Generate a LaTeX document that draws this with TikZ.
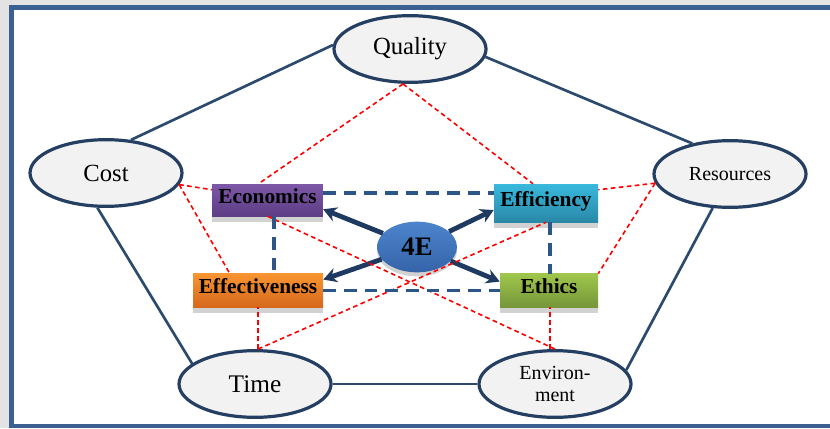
\documentclass[tikz,border=0pt]{standalone}
\usepackage{fontspec}
\setmainfont{Liberation Serif}
\usetikzlibrary{shapes.geometric, arrows.meta, calc, shadows}

\definecolor{framebl}{HTML}{3B6190}
\definecolor{edgebl}{HTML}{253F62}
\definecolor{linebl}{HTML}{2B4A6E}
\definecolor{dashbl}{HTML}{2C5688}
\definecolor{arrbl}{HTML}{1F3A60}
\definecolor{ovalgray}{HTML}{F2F2F2}
\definecolor{boxshadow}{HTML}{D2D2D2}
\definecolor{ecotop}{HTML}{7D57A8}
\definecolor{ecobot}{HTML}{5E3E84}
\definecolor{efftop}{HTML}{38B9DC}
\definecolor{effbot}{HTML}{2A88A8}
\definecolor{fvetop}{HTML}{F89431}
\definecolor{fvebot}{HTML}{D6681C}
\definecolor{ethtop}{HTML}{9FC64C}
\definecolor{ethbot}{HTML}{76963A}
\definecolor{coretop}{HTML}{4C85CC}
\definecolor{corebot}{HTML}{3563A8}

\begin{document}
\begin{tikzpicture}[x=0.75pt, y=-0.75pt,
  outer/.style={ellipse, draw=edgebl, line width=2.4pt, fill=ovalgray,
    minimum width=114pt, minimum height=50pt, inner sep=0pt, align=center},
  ebox/.style={rectangle, inner sep=0pt, text height=11pt, text depth=6pt,
    font=\fontsize{16}{18}\selectfont\bfseries,
    drop shadow={shadow xshift=0pt, shadow yshift=-4.5pt, fill=boxshadow, opacity=1}},
  pent/.style={draw=linebl, line width=2pt},
  reddash/.style={draw=red, line width=1.2pt, dash pattern=on 3.5pt off 2.5pt},
  bluedash/.style={draw=dashbl, line width=2.6pt, dash pattern=on 9.5pt off 6pt},
  push/.style={draw=arrbl, line width=3.6pt, -{Stealth[length=10pt, width=11pt]}}]
  \useasboundingbox (0,0) rectangle (830,428);
  \clip (0,0) rectangle (830,428);

  % Frame
  \fill[gray!22] (0,0) rectangle (830,428);
  \fill[white] (12,8) rectangle (840,426);
  \draw[framebl, line width=3.6pt] (840,7.5) -- (11.5,7.5) -- (11.5,426) -- (840,426);

  % Outer ellipses
  \node[outer, font=\fontsize{18.5}{20}\selectfont] (Quality) at (410,49) {Quality};
  \node[outer, font=\fontsize{18.5}{20}\selectfont] (Cost) at (106,173) {Cost};
  \node[outer, font=\fontsize{15}{17}\selectfont] (Resources) at (730,174) {Resources};
  \node[outer, font=\fontsize{19}{20}\selectfont] (Time) at (255,384) {Time};
  \node[outer, font=\fontsize{15}{17}\selectfont] (Environment) at (555,384) {Environ-\\ment};

  % The four E boxes
  \node[ebox, top color=ecotop, bottom color=ecobot,
    minimum width=83pt, minimum height=24pt] (Economics) at (267.5,200) {Economics};
  \node[ebox, top color=efftop, bottom color=effbot,
    minimum width=78pt, minimum height=28.5pt] (Efficiency) at (546,203) {Efficiency};
  \node[ebox, top color=fvetop, bottom color=fvebot,
    minimum width=97.5pt, minimum height=25pt] (Effectiveness) at (258,290.5) {Effectiveness};
  \node[ebox, top color=ethtop, bottom color=ethbot,
    minimum width=73.5pt, minimum height=25pt] (Ethics) at (549,290.5) {Ethics};

  % Centre
  \node[ellipse, top color=coretop, bottom color=corebot,
    minimum width=60pt, minimum height=38pt, inner sep=0pt,
    font=\fontsize{20}{22}\selectfont\bfseries,
    drop shadow={shadow xshift=0pt, shadow yshift=-3pt, fill=boxshadow, opacity=1}]
    (core) at (417,247) {4E};

  % Pentagon
  \draw[pent] (Quality.177) -- (Cost.53);
  \draw[pent] (Quality.-6) -- (Resources.141);
  \draw[pent] (Cost.256) -- (Time.162);
  \draw[pent] (Resources.243) -- (Environment.11);
  \draw[pent] (Time) -- (Environment);

  % Arrows out of 4E
  \foreach \anc/\dy in {Economics.south east/-7, Efficiency.west/7,
      Effectiveness.north east/6, Ethics.north west/8}
    \draw[push] (core) -- ($(\anc)+(0,\dy)$);

  % Red links
  \coordinate (qs) at ($(Quality.south)+(-7,0)$);
  \coordinate (ce) at (Cost.-9);
  \coordinate (rw) at (Resources.187);
  \coordinate (tn) at ($(Time.north)+(3,0)$);
  \coordinate (en) at ($(Environment.north)+(-5,0)$);
  \draw[reddash] (qs) -- ($(Economics.north)+(-9,0)$);
  \draw[reddash] (qs) -- ($(Efficiency.north)+(-13,0)$);
  \draw[reddash] (ce) -- ($(Economics.north west)+(0,6)$);
  \draw[reddash] (ce) -- ($(Effectiveness.north west)+(37,0)$);
  \draw[reddash] (rw) -- ($(Efficiency.north east)+(0,6)$);
  \draw[reddash] (rw) -- (Ethics.north east);
  \draw[reddash] (tn) -- (tn |- Effectiveness.south);
  \draw[reddash] (tn) -- (Efficiency.south);
  \draw[reddash] (Economics.south) -- (Environment.north);
  \draw[reddash] (en) -- (en |- Ethics.south);

  % Blue dashed square
  \coordinate (tdash) at ($(Economics.east)+(0,-7)$);
  \coordinate (ldash) at ($(Economics.south)+(6.5,0)$);
  \coordinate (rdash) at ($(Efficiency.south)+(4,0)$);
  \draw[bluedash] (tdash) -- (tdash -| Efficiency.west);
  \draw[bluedash] (Effectiveness.east) -- (Effectiveness.east -| Ethics.west);
  \draw[bluedash] (ldash) -- (ldash |- Effectiveness.north);
  \draw[bluedash] (rdash) -- (rdash |- Ethics.north);
\end{tikzpicture}
\end{document}
